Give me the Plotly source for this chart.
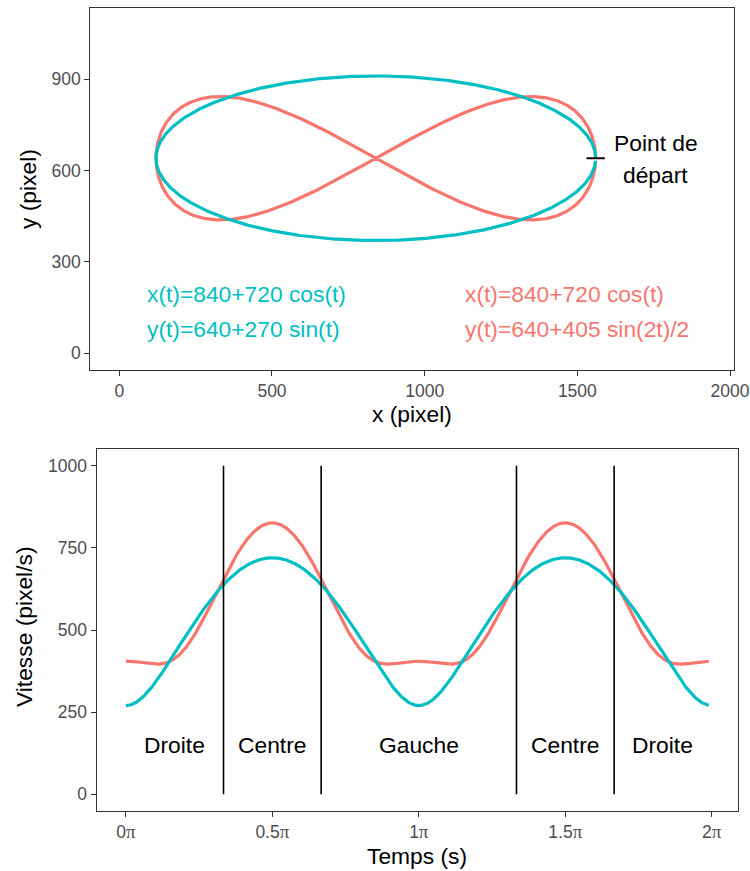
import numpy as np
import plotly.graph_objects as go

# ---- data: trajectory parameters (as written on the chart) ----
X_CENTER = 840
X_AMP = 720
Y_CENTER = 640
Y_AMP_ELLIPSE = 270
Y_AMP_EIGHT = 405

t_pi = np.linspace(0, 1.99, 1000)     # time, in units of pi
t = t_pi * np.pi

ellipse_x = X_CENTER + X_AMP * np.cos(t)
ellipse_y = Y_CENTER + Y_AMP_ELLIPSE * np.sin(t)
eight_x = X_CENTER + X_AMP * np.cos(t)
eight_y = Y_CENTER + Y_AMP_EIGHT * np.sin(2 * t) / 2

ellipse_speed = np.hypot(X_AMP * np.sin(t), Y_AMP_ELLIPSE * np.cos(t))
eight_speed = np.hypot(X_AMP * np.sin(t), Y_AMP_EIGHT * np.cos(2 * t))

zone_bounds = [1 / 3, 2 / 3, 4 / 3, 5 / 3]          # in pi
zone_centers = [1 / 6, 1 / 2, 1, 3 / 2, 11 / 6]     # in pi
zone_labels = ["Droite", "Centre", "Gauche", "Centre", "Droite"]
zone_label_y = 150
speed_max_line = 1000

start_point = (X_CENTER + X_AMP, Y_CENTER)

top_x_ticks = [0, 500, 1000, 1500, 2000]
top_y_ticks = [0, 300, 600, 900]
bot_x_ticks = [0, 0.5, 1, 1.5, 2]
bot_x_numbers = ["0", "0.5", "1", "1.5", "2"]
bot_y_ticks = [0, 250, 500, 750, 1000]

eq_ellipse = ["x(t)=840+720 cos(t)", "y(t)=640+270 sin(t)"]
eq_eight = ["x(t)=840+720 cos(t)", "y(t)=640+405 sin(2t)/2"]

# ---- styling ----
RED = "#F8766D"
TEAL = "#00BFC4"
FONT = "Liberation Sans, Arial, Helvetica, sans-serif"
W, H = 750, 871
LW = 3.2
BIG = 22.8
TICK = 17.5

bot_x_labels = [n + "<span style='font-family:Liberation Serif, Times New Roman, serif;"
                    "font-size:19px'>π</span>" for n in bot_x_numbers]

fig = go.Figure()

# top panel
fig.add_trace(go.Scatter(x=eight_x, y=eight_y, mode="lines",
                         line=dict(color=RED, width=LW), xaxis="x", yaxis="y",
                         showlegend=False, hoverinfo="skip"))
fig.add_trace(go.Scatter(x=ellipse_x, y=ellipse_y, mode="lines",
                         line=dict(color=TEAL, width=LW), xaxis="x", yaxis="y",
                         showlegend=False, hoverinfo="skip"))
fig.add_trace(go.Scatter(x=[start_point[0] - 30, start_point[0] + 30],
                         y=[start_point[1], start_point[1]], mode="lines",
                         line=dict(color="black", width=1.8), xaxis="x", yaxis="y",
                         showlegend=False, hoverinfo="skip"))

# bottom panel
fig.add_trace(go.Scatter(x=t_pi, y=eight_speed, mode="lines",
                         line=dict(color=RED, width=LW), xaxis="x2", yaxis="y2",
                         showlegend=False, hoverinfo="skip"))
fig.add_trace(go.Scatter(x=t_pi, y=ellipse_speed, mode="lines",
                         line=dict(color=TEAL, width=LW), xaxis="x2", yaxis="y2",
                         showlegend=False, hoverinfo="skip"))
for b in zone_bounds:
    fig.add_trace(go.Scatter(x=[b, b], y=[0, speed_max_line], mode="lines",
                             line=dict(color="black", width=1.6), xaxis="x2", yaxis="y2",
                             showlegend=False, hoverinfo="skip"))

axis_common = dict(showline=True, mirror=True, linecolor="#333333", linewidth=1.3,
                   ticks="outside", ticklen=5, tickwidth=1.1, tickcolor="#333333",
                   showgrid=False, zeroline=False, automargin=False,
                   tickfont=dict(family=FONT, size=TICK, color="#4D4D4D"))

fig.update_layout(
    width=W, height=H,
    margin=dict(l=0, r=0, t=0, b=0, autoexpand=False),
    paper_bgcolor="white", plot_bgcolor="white",
    font=dict(family=FONT),
    xaxis=dict(axis_common, domain=[90.3 / W, 734 / W], range=[-95, 2013],
               tickvals=top_x_ticks, anchor="y"),
    yaxis=dict(axis_common, domain=[1 - 370 / H, 1 - 7.7 / H], range=[-55, 1134],
               tickvals=top_y_ticks, anchor="x"),
    xaxis2=dict(axis_common, domain=[96.7 / W, 738 / W], range=[-0.0995, 2.0895],
                tickvals=bot_x_ticks, ticktext=bot_x_labels, anchor="y2"),
    yaxis2=dict(axis_common, domain=[1 - 810.7 / H, 1 - 449.3 / H], range=[-50, 1050],
                tickvals=bot_y_ticks, anchor="x2"),
)

ann = []
big = dict(family=FONT, size=BIG, color="black")
# axis titles
ann.append(dict(text="x (pixel)", x=412 / W, y=1 - 414 / H, xref="paper", yref="paper",
                showarrow=False, font=big, xanchor="center", yanchor="middle"))
ann.append(dict(text="y (pixel)", x=28 / W, y=1 - 189 / H, xref="paper", yref="paper",
                showarrow=False, font=big, textangle=-90, xanchor="center", yanchor="middle"))
ann.append(dict(text="Temps (s)", x=417 / W, y=1 - 856 / H, xref="paper", yref="paper",
                showarrow=False, font=big, xanchor="center", yanchor="middle"))
ann.append(dict(text="Vitesse (pixel/s)", x=24 / W, y=1 - 627 / H, xref="paper", yref="paper",
                showarrow=False, font=big, textangle=-90, xanchor="center", yanchor="middle"))

# start point label
ann.append(dict(text="Point de", x=1757, y=690, xref="x", yref="y", showarrow=False,
                font=big, xanchor="center", yanchor="middle"))
ann.append(dict(text="départ", x=1757, y=585, xref="x", yref="y", showarrow=False,
                font=big, xanchor="center", yanchor="middle"))

# equations
for txt, yy in zip(eq_ellipse, [195, 78]):
    ann.append(dict(text=txt, x=84, y=yy, xref="x", yref="y", showarrow=False,
                    font=dict(family=FONT, size=BIG, color=TEAL), xanchor="left", yanchor="middle"))
for txt, yy in zip(eq_eight, [195, 78]):
    ann.append(dict(text=txt, x=1127, y=yy, xref="x", yref="y", showarrow=False,
                    font=dict(family=FONT, size=BIG, color=RED), xanchor="left", yanchor="middle"))

# zone labels
for c, lab in zip(zone_centers, zone_labels):
    ann.append(dict(text=lab, x=c, y=zone_label_y, xref="x2", yref="y2", showarrow=False,
                    font=big, xanchor="center", yanchor="middle"))

fig.update_layout(annotations=ann)
fig.write_html("out.html",
               config={"responsive": False, "displayModeBar": False},
               post_script="document.body.style.margin='0';document.body.style.overflow='hidden';")
